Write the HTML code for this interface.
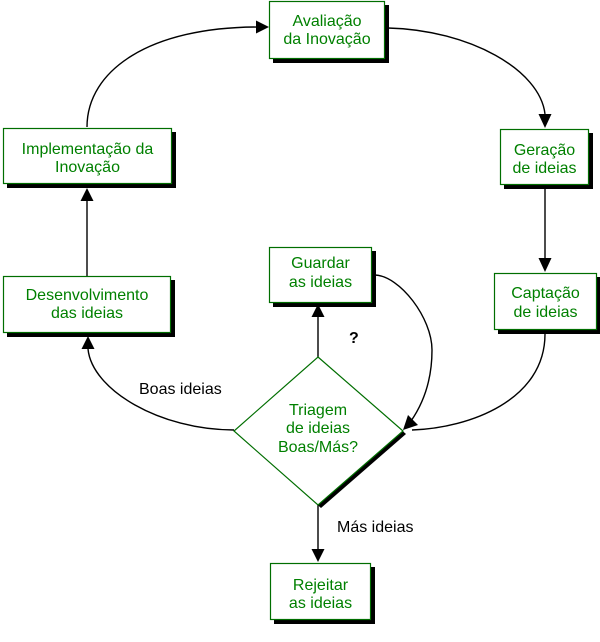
<!DOCTYPE html>
<html><head><meta charset="utf-8"><style>
html,body{margin:0;padding:0;background:#fff;}
svg{display:block;}
.bt{font-family:"Liberation Sans",sans-serif;font-size:16px;fill:#008000;text-anchor:middle;}
.lt{font-family:"Liberation Sans",sans-serif;font-size:16px;fill:#000;}
</style></head><body>
<svg width="600" height="642" viewBox="0 0 600 642" xmlns="http://www.w3.org/2000/svg">
<g fill="none" stroke="#000" stroke-width="1.4">
<path d="M87,127 C87,70 150,27 258,27"/>
<path d="M388,28 C470,30 540,70 545,114"/>
<path d="M545,189 L545,259"/>
<path d="M545,334 C545,400 470,428 412,430"/>
<path d="M375,275 C400,276 432,318 432,350 C432,385 420,408 411,421"/>
<path d="M318,357 L318,316"/>
<path d="M234,430 C160,430 92,390 88,349"/>
<path d="M87,276 L87,200"/>
<path d="M318,505 L318,549"/>
</g>
<g fill="#000">
<polygon points="269,27 256,20.5 256,33.5"/>
<polygon points="545,128 538.5,114 551.5,114"/>
<polygon points="545,272 538.5,258 551.5,258"/>
<polygon points="403,430 408,415 418,425"/>
<polygon points="318,304 311.5,317 324.5,317"/>
<polygon points="88,336 81.5,349 94.5,349"/>
<polygon points="87,188 80.5,201 93.5,201"/>
<polygon points="318,562 311.5,549 324.5,549"/>
</g>
<!-- boxes -->
<g>
<rect x="273" y="5" width="116" height="58" fill="#000"/>
<rect x="269.5" y="1.5" width="115" height="57" fill="#fff" stroke="#006e00" stroke-width="1.2"/>
<rect x="7" y="132" width="169" height="56" fill="#000"/>
<rect x="3.5" y="128.5" width="168" height="55" fill="#fff" stroke="#006e00" stroke-width="1.2"/>
<rect x="504" y="133" width="89" height="56" fill="#000"/>
<rect x="500.5" y="129.5" width="88" height="55" fill="#fff" stroke="#006e00" stroke-width="1.2"/>
<rect x="273" y="251" width="103" height="56" fill="#000"/>
<rect x="269.5" y="247.5" width="102" height="55" fill="#fff" stroke="#006e00" stroke-width="1.2"/>
<rect x="498" y="277" width="102" height="57" fill="#000"/>
<rect x="494.5" y="273.5" width="102" height="56" fill="#fff" stroke="#006e00" stroke-width="1.2"/>
<rect x="7" y="280" width="168" height="57" fill="#000"/>
<rect x="3.5" y="276.5" width="167" height="56" fill="#fff" stroke="#006e00" stroke-width="1.2"/>
<rect x="274" y="567" width="101" height="57" fill="#000"/>
<rect x="270.5" y="563.5" width="100" height="56" fill="#fff" stroke="#006e00" stroke-width="1.2"/>
<polygon points="321,360 406,434 321,508 237,434" fill="#000"/>
<polygon points="318,357 403,431 318,505 234,431" fill="#fff" stroke="#006e00" stroke-width="1.2"/>
</g>
<g class="bt">
<text x="327" y="26">Avaliação</text>
<text x="327" y="44">da Inovação</text>
<text x="87.5" y="154">Implementação da</text>
<text x="87.5" y="172">Inovação</text>
<text x="544.5" y="155">Geração</text>
<text x="544.5" y="173">de ideias</text>
<text x="320.5" y="268">Guardar</text>
<text x="320.5" y="287">as ideias</text>
<text x="545.5" y="298">Captação</text>
<text x="545.5" y="317">de ideias</text>
<text x="87" y="300">Desenvolvimento</text>
<text x="87" y="318">das ideias</text>
<text x="318" y="415">Triagem</text>
<text x="318" y="433">de ideias</text>
<text x="318" y="452">Boas/Más?</text>
<text x="320.5" y="590">Rejeitar</text>
<text x="320.5" y="608">as ideias</text>
</g>
<text class="lt" x="139" y="394">Boas ideias</text>
<text class="lt" x="337" y="532">Más ideias</text>
<text class="lt" x="349" y="343" style="font-weight:bold">?</text>
</svg>
</body></html>
